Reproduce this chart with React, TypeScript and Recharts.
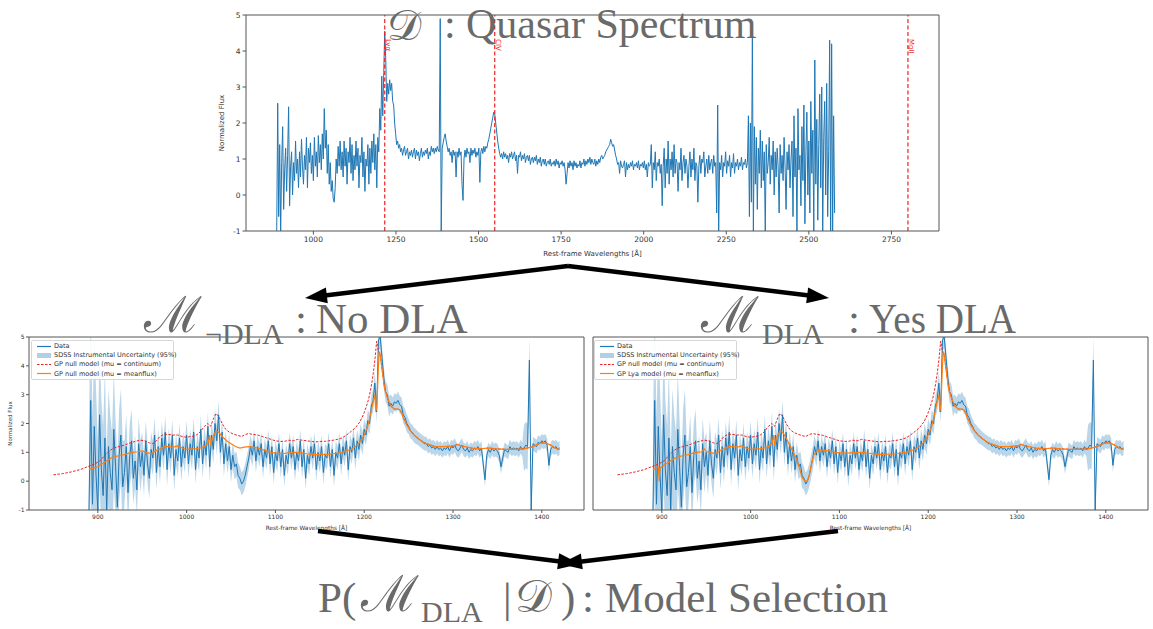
import { ComposedChart, Line, Area, XAxis, YAxis, ReferenceLine, Legend } from 'recharts';

// top panel: flux sampled every 3 Å from 889 Å
const QUASAR_START = 889;
const QUASAR_STEP = 3;
const quasarFlux = [
  -1.0, 2.55, -0.6, 1.4, -1.0, 0.9, 1.9, -0.4, 0.7, 1.3,
  0.1, 1.1, 2.45, -0.3, 0.8, 1.2, 0.0, 0.9, 0.4, 1.5,
  0.6, 1.0, 0.2, 1.2, 0.5, 1.55, 0.8, 0.3, 1.1, 0.7,
  1.6, 0.2, 1.3, 0.9, 1.45, 0.6, 1.1, 0.4, 1.6, 0.8,
  1.2, 0.5, 1.65, 0.9, 1.4, 0.7, 1.7, 1.0, 2.4, 1.3,
  1.8, 0.6, 1.4, 0.3, 0.9, 0.1, 0.4, -0.1, -0.2, 0.2,
  1.0, 0.6, 1.35, 0.8, 1.5, 0.7, 1.2, 0.5, 1.5, 0.8,
  1.3, 0.3, 1.2, 0.9, 1.6, 0.6, 1.4, 0.4, 1.1, 0.7,
  1.5, 0.8, 1.3, 0.2, 1.1, 0.9, 1.6, 0.5, 1.2, 0.1,
  1.0, 0.8, 1.4, 0.3, 1.3, 0.6, 1.5, 0.9, 1.7, 0.7,
  1.4, 0.2, 1.6, 1.2, 2.4, 1.8, 3.3, 2.2, 3.4, 4.55,
  3.8, 2.6, 3.1, 2.8, 3.2, 2.9, 3.1, 2.6, 2.5, 2.0,
  1.7, 1.4, 1.5, 1.3, 1.4, 1.2, 1.3, 1.1, 1.25, 1.35,
  1.1, 1.2, 1.3, 1.0, 1.2, 1.1, 1.25, 1.05, 1.2, 1.3,
  1.0, 1.25, 1.1, 1.2, 0.95, 1.15, 1.3, 1.05, 1.2, 1.1,
  1.25, 1.15, 1.3, 1.0, 1.2, 1.1, 1.35, 1.2, 1.3, 1.15,
  1.3, 1.2, 1.35, 1.25, 1.2, 4.9, -1.0, 1.3, 1.45, 1.6,
  1.7, 1.5, 1.35, 1.2, 1.3, 1.1, 1.2, 0.9, 1.25, 1.1,
  1.2, 0.5, 1.2, 1.05, 1.3, 1.1, 1.2, 0.3, -0.15, 1.0,
  1.25, 1.05, 1.3, 1.15, 1.2, 0.9, 1.3, 1.1, 1.25, 1.15,
  1.3, 1.05, 1.2, 1.1, 1.3, 0.35, 1.2, 1.3, 1.15, 1.35,
  1.2, 1.35, 1.3, 1.45, 1.55, 1.7, 1.85, 2.0, 2.15, 2.3,
  2.25, 2.0, 1.75, 1.5, 1.3, 1.15, 1.05, 1.15, 1.0, 1.2,
  1.05, 1.15, 1.0, 1.1, 0.9, 1.15, 1.05, 1.2, 1.0, 1.1,
  1.2, 0.95, 1.1, 0.6, 1.1, 1.05, 1.2, 0.95, 1.1, 1.0,
  1.15, 0.9, 1.05, 1.1, 0.95, 1.1, 0.85, 1.0, 1.05, 0.9,
  1.05, 0.95, 1.1, 0.85, 1.0, 0.9, 1.05, 0.8, 0.95, 1.0,
  0.85, 1.0, 0.8, 0.9, 0.95, 0.85, 1.0, 0.8, 0.9, 0.85,
  0.95, 0.8, 1.0, 0.85, 0.95, 0.75, 0.9, 0.85, 0.95, 0.8,
  0.9, 0.7, 0.3, 0.6, 0.9, 0.75, 0.95, 0.8, 0.9, 0.7,
  0.95, 0.8, 0.9, 0.75, 0.85, 0.8, 0.95, 0.75, 0.9, 0.85,
  1.0, 0.8, 0.95, 0.85, 1.0, 0.9, 1.05, 0.85, 1.0, 0.9,
  0.85, 1.0, 0.8, 0.95, 0.85, 1.0, 0.9, 1.05, 1.1, 1.0,
  1.05, 1.1, 1.2, 1.25, 1.3, 1.35, 1.4, 1.55, 1.45, 1.35,
  1.4, 1.25, 1.1, 1.0, 0.85, 0.9, 0.6, 0.95, 0.8, 0.75,
  0.85, 0.95, 0.5, 0.9, 0.7, 0.85, 0.75, 0.9, 0.8, 0.95,
  0.7, 0.85, 0.8, 0.9, 0.75, 0.95, 0.7, 0.85, 0.8, 0.9,
  0.75, 0.95, 0.7, 0.85, 0.5, 0.9, 0.8, 0.85, 1.4, 0.2,
  0.9, 0.7, 1.2, 0.4, 0.9, 0.8, 1.0, 0.6, 0.85, -0.3,
  0.8, 1.3, 0.2, 1.0, 0.6, 1.5, 0.3, 1.0, 0.7, 1.2,
  0.5, 1.4, 0.6, 1.0, 0.9, 0.1, 0.9, 0.7, 1.3, 0.4,
  0.9, 1.1, 0.6, 1.0, 0.8, 0.2, 0.8, 1.2, 0.5, 1.0,
  0.7, 1.3, 0.4, 0.9, 0.8, -0.2, 0.8, 1.1, 0.6, 1.0,
  0.9, 1.2, 0.5, 0.8, 1.0, 0.6, 1.1, 0.7, 0.9, 1.0,
  0.6, 1.1, 0.8, 0.9, -0.5, 2.5, -1.0, 0.9, 0.7, 1.1,
  0.5, 0.9, 0.8, 1.2, 0.6, 0.95, 0.8, 1.1, 0.5, 0.9,
  0.75, 1.15, 0.6, 0.9, 0.8, 1.0, 0.7, 0.9, 0.8, 1.05,
  0.7, 0.9, 0.85, 1.0, 0.75, 0.9, 2.2, -0.6, 2.0, -0.2,
  4.5, -1.0, 1.9, 0.3, 1.6, -0.4, 1.3, 0.6, 1.8, 0.2,
  1.5, 0.4, 1.2, -1.0, 1.4, 0.6, 0.9, 1.6, 0.3, 1.1,
  0.7, 1.5, 0.0, 1.2, 0.5, 1.3, 0.8, -0.5, 1.4, 0.6,
  1.1, 0.4, 1.6, 0.8, -0.4, 1.2, 0.7, 1.4, 0.2, 1.0,
  1.5, -0.6, 2.2, 0.5, 1.3, -1.0, 2.4, 0.7, 1.1, -0.3,
  1.9, 0.4, 2.5, -0.8, 1.2, 2.3, 0.0, 1.5, -0.5, 2.6,
  0.6, 1.8, -1.0, 3.75, 0.3, 2.1, -0.7, 1.4, 2.8, 0.2,
  3.0, -1.0, 1.6, 2.6, 0.0, 3.1, -0.6, 1.2, 4.3, -1.0,
  4.2, -1.0, 2.2, -0.5,
];

// lower panels: same spectrum near Lyα, flux every 2 Å from 890 Å
const DLA_START = 890;
const DLA_STEP = 2;
const dlaFlux = [
  -1.0, 2.8, -0.8, 1.9, 0.2, -1.0, 2.3, 0.4, -0.5, 1.5,
  -1.0, 1.2, 0.3, -0.3, 1.8, 0.5, -0.9, 0.9, 1.6, -0.2,
  0.3, 1.2, -0.4, 0.9, 1.4, 0.1, 0.7, -0.3, 1.3, 0.5,
  1.0, 0.2, 1.4, 0.6, 0.1, 1.1, 0.8, 1.6, 0.3, 1.2,
  0.5, 1.5, 0.9, 1.7, 0.4, 1.3, 0.8, 1.6, 0.2, 1.1,
  0.7, 1.5, 0.5, 1.2, 0.8, 1.6, 0.6, 1.3, 0.9, 1.7,
  0.4, 1.2, 0.8, 1.8, 0.6, 1.4, 0.9, 1.9, 0.5, 1.6,
  1.1, 2.0, 1.4, 2.3, 1.0, 1.7, 0.6, 1.3, 0.7, 1.2,
  0.4, 0.9, 0.5, 0.6, 0.2, 0.1, -0.1, 0.0, 0.2, 0.5,
  0.8, 1.2, 0.9, 1.4, 0.7, 1.2, 0.9, 1.3, 0.5, 1.1,
  0.8, 1.4, 0.6, 1.2, 0.3, 1.0, 0.7, 1.3, 0.5, 1.1,
  0.2, 0.9, 0.6, 1.3, 0.8, 1.2, 0.4, 1.0, 0.7, 1.4,
  0.5, 1.1, 0.1, 0.9, 0.6, 1.2, 0.8, 1.3, 0.4, 1.0,
  0.7, 1.2, 0.3, 0.9, 0.8, 1.3, 0.5, 1.1, 0.2, 1.0,
  0.8, 1.3, 0.6, 1.2, 0.9, 1.4, 0.4, 1.2, 1.0, 1.5,
  0.8, 1.4, 1.1, 1.6, 1.3, 1.8, 1.6, 2.1, 2.0, 2.6,
  2.8, 3.4, 2.4, 4.9, 5.0, 4.3, 3.6, 3.1, 3.0, 2.6,
  2.7, 2.6, 2.75, 2.7, 2.8, 2.65, 2.6, 2.3, 2.2, 2.0,
  1.9, 1.75, 1.7, 1.6, 1.55, 1.5, 1.45, 1.4, 1.35, 1.3,
  1.3, 1.2, 1.25, 1.15, 1.2, 1.1, 1.2, 1.1, 1.15, 1.05,
  1.15, 1.1, 1.2, 1.05, 1.2, 1.15, 1.25, 1.1, 1.05, 1.15,
  1.25, 1.1, 1.05, 1.15, 1.0, 1.1, 1.05, 1.15, 1.1, 1.2,
  1.05, 1.15, 0.6, 0.05, 0.9, 1.1, 1.0, 1.15, 1.05, 1.1,
  1.05, 0.9, 0.5, 0.8, 1.1, 1.05, 1.0, 1.2, 1.1, 1.15,
  1.1, 1.15, 1.05, 1.2, 1.1, 1.15, 1.25, 1.2, 4.2, -1.0,
  1.3, 1.25, 1.2, 1.35, 1.3, 1.4, 1.35, 1.4, 1.25, 0.55,
  1.1, 1.2, 1.15, 1.2, 1.1, 1.15,
];

// 1-sigma pipeline noise, one value per 10 Å bin from 890 Å
const SIGMA_STEP = 10;
const dlaSigma = [
  1.5, 1.2, 1.0, 0.8, 0.55, 0.45, 0.35, 0.3, 0.28, 0.27,
  0.26, 0.25, 0.25, 0.25, 0.25, 0.22, 0.22, 0.2, 0.2, 0.2,
  0.2, 0.2, 0.2, 0.2, 0.2, 0.2, 0.2, 0.2, 0.2, 0.2,
  0.2, 0.18, 0.2, 0.18, 0.15, 0.15, 0.13, 0.12, 0.12, 0.12,
  0.12, 0.12, 0.12, 0.12, 0.12, 0.12, 0.12, 0.12, 0.12, 0.4,
  0.12, 0.12, 0.12, 0.12,
];

const continuumModel: [number, number][] = [
  [850, 0.22], [860, 0.26], [870, 0.32], [880, 0.4], [890, 0.52], [897, 0.6], [903, 0.72], [908, 0.9], [913, 1.05], [918, 1.15],
  [924, 1.2], [930, 1.25], [936, 1.32], [942, 1.38], [948, 1.42], [953, 1.4], [958, 1.33], [962, 1.3], [966, 1.4], [970, 1.55],
  [975, 1.63], [980, 1.62], [985, 1.6], [990, 1.6], [995, 1.55], [1000, 1.52], [1005, 1.55], [1010, 1.58], [1015, 1.7], [1020, 1.9],
  [1024, 2.0], [1027, 1.9], [1030, 2.15], [1033, 2.35], [1036, 2.25], [1040, 2.0], [1044, 1.8], [1048, 1.7], [1053, 1.63], [1058, 1.58],
  [1062, 1.55], [1066, 1.62], [1070, 1.65], [1075, 1.62], [1080, 1.6], [1085, 1.55], [1090, 1.5], [1095, 1.45], [1100, 1.4], [1105, 1.38],
  [1110, 1.38], [1115, 1.42], [1120, 1.4], [1125, 1.45], [1130, 1.42], [1135, 1.4], [1140, 1.38], [1145, 1.36], [1150, 1.38], [1155, 1.38],
  [1160, 1.4], [1165, 1.42], [1170, 1.45], [1175, 1.5], [1180, 1.6], [1185, 1.72], [1190, 1.85], [1195, 2.05], [1199, 2.3], [1202, 2.55],
  [1205, 2.85], [1208, 3.3], [1210, 3.7], [1212, 4.2], [1214, 4.85], [1215, 4.7], [1216, 4.5], [1218, 4.4], [1220, 3.9], [1223, 3.2],
  [1226, 2.9], [1230, 2.6], [1234, 2.5], [1238, 2.5], [1241, 2.45], [1244, 2.2], [1248, 1.95], [1252, 1.75], [1256, 1.6], [1260, 1.5],
  [1265, 1.38], [1270, 1.3], [1275, 1.25], [1280, 1.2], [1290, 1.2], [1300, 1.22], [1305, 1.27], [1310, 1.22], [1320, 1.15], [1330, 1.12],
  [1340, 1.15], [1350, 1.12], [1360, 1.1], [1370, 1.1], [1380, 1.12], [1390, 1.2], [1395, 1.28], [1400, 1.33], [1405, 1.32], [1410, 1.25],
  [1415, 1.15], [1420, 1.1],
];

const nullMeanflux: [number, number][] = [
  [890, 0.4], [895, 0.45], [900, 0.5], [905, 0.6], [910, 0.7], [915, 0.8], [920, 0.85], [925, 0.9], [930, 0.92], [935, 0.97],
  [940, 1.0], [945, 1.02], [950, 1.05], [955, 1.0], [960, 0.95], [965, 1.05], [970, 1.12], [975, 1.2], [980, 1.2], [985, 1.18],
  [990, 1.22], [995, 1.15], [1000, 1.1], [1005, 1.12], [1010, 1.12], [1015, 1.15], [1020, 1.2], [1024, 1.3], [1026, 1.6], [1027, 1.25],
  [1029, 1.5], [1033, 1.75], [1036, 1.7], [1040, 1.55], [1045, 1.4], [1050, 1.3], [1055, 1.2], [1060, 1.15], [1065, 1.18], [1070, 1.2],
  [1075, 1.18], [1080, 1.15], [1085, 1.1], [1090, 1.05], [1095, 1.0], [1100, 0.97], [1105, 0.97], [1110, 0.96], [1115, 0.98], [1120, 1.0],
  [1125, 1.0], [1130, 0.98], [1135, 0.95], [1140, 0.93], [1145, 0.92], [1150, 0.92], [1155, 0.93], [1160, 0.93], [1165, 0.95], [1170, 0.97],
  [1175, 1.0], [1180, 1.05], [1185, 1.1], [1190, 1.2], [1195, 1.35], [1200, 1.6], [1204, 1.9], [1207, 2.3], [1210, 2.75], [1212, 3.0],
  [1213, 2.45], [1214, 2.5], [1215, 3.2], [1216, 4.0], [1217, 4.5], [1218, 4.4], [1220, 3.9], [1223, 3.2], [1226, 2.9], [1230, 2.6],
  [1234, 2.5], [1238, 2.5], [1241, 2.45], [1244, 2.2], [1248, 1.95], [1252, 1.75], [1256, 1.6], [1260, 1.5], [1265, 1.38], [1270, 1.3],
  [1275, 1.25], [1280, 1.2], [1290, 1.2], [1300, 1.22], [1305, 1.27], [1310, 1.22], [1320, 1.15], [1330, 1.12], [1340, 1.15], [1350, 1.12],
  [1360, 1.1], [1370, 1.1], [1380, 1.12], [1390, 1.2], [1395, 1.28], [1400, 1.33], [1405, 1.32], [1410, 1.25], [1415, 1.15], [1420, 1.1],
];

const lyaMeanflux: [number, number][] = [
  [890, 0.4], [893, 0.45], [896, 0.5], [897, 0.0], [898, 0.45], [900, 0.5], [905, 0.6], [910, 0.7], [915, 0.8], [920, 0.85],
  [925, 0.9], [930, 0.92], [935, 0.97], [940, 1.0], [945, 1.02], [948, 1.12], [950, 1.03], [955, 1.0], [960, 0.95], [965, 1.05],
  [970, 1.12], [975, 1.2], [980, 1.2], [985, 1.18], [990, 1.22], [995, 1.15], [1000, 1.1], [1005, 1.12], [1010, 1.12], [1015, 1.15],
  [1020, 1.2], [1024, 1.3], [1026, 1.6], [1027, 1.25], [1029, 1.5], [1033, 1.75], [1036, 1.7], [1040, 1.5], [1044, 1.25], [1048, 1.0],
  [1052, 0.75], [1055, 0.45], [1058, 0.12], [1061, 0.0], [1064, 0.02], [1066, 0.2], [1068, 0.5], [1071, 0.9], [1075, 1.05], [1080, 1.08],
  [1085, 1.06], [1090, 1.04], [1095, 1.0], [1100, 0.98], [1105, 0.98], [1110, 0.97], [1115, 0.99], [1120, 1.0], [1125, 1.0], [1130, 0.98],
  [1135, 0.96], [1140, 0.94], [1145, 0.93], [1150, 0.93], [1155, 0.94], [1160, 0.94], [1165, 0.96], [1170, 0.98], [1175, 1.0], [1180, 1.05],
  [1185, 1.1], [1190, 1.2], [1195, 1.35], [1200, 1.6], [1204, 1.9], [1207, 2.3], [1210, 2.75], [1212, 3.0], [1213, 2.45], [1214, 2.5],
  [1215, 3.2], [1216, 4.0], [1217, 4.5], [1218, 4.4], [1220, 3.9], [1223, 3.2], [1226, 2.9], [1230, 2.6], [1234, 2.5], [1238, 2.5],
  [1241, 2.45], [1244, 2.2], [1248, 1.95], [1252, 1.75], [1256, 1.6], [1260, 1.5], [1265, 1.38], [1270, 1.3], [1275, 1.25], [1280, 1.2],
  [1290, 1.2], [1300, 1.22], [1305, 1.27], [1310, 1.22], [1320, 1.15], [1330, 1.12], [1340, 1.15], [1350, 1.12], [1360, 1.1], [1370, 1.1],
  [1380, 1.12], [1390, 1.2], [1395, 1.28], [1400, 1.33], [1405, 1.32], [1410, 1.25], [1415, 1.15], [1420, 1.1],
];

const emissionLines = [
  { name: 'Lyα', wave: 1216 },
  { name: 'CIV', wave: 1549 },
  { name: 'MgII', wave: 2800 },
];

const fluxTicks = [-1, 0, 1, 2, 3, 4, 5];
const topTicks = [1000, 1250, 1500, 1750, 2000, 2250, 2500, 2750];
const lowerTicks = [900, 1000, 1100, 1200, 1300, 1400];
const TOP_DOMAIN = [796, 2894];
const LOWER_DOMAIN = [822.5, 1447.5];
const FLUX_DOMAIN = [-1, 5];

const BLUE = '#1f77b4';
const ORANGE = '#ff7f0e';
const RED = '#ee2222';
const AXIS = '#555';
const TITLE_GREY = '#6a6a6a';
const SERIF = 'Liberation Serif, Times New Roman, serif';
const SANS = 'DejaVu Sans, sans-serif';

const topData = quasarFlux.map((f, i) => ({ w: QUASAR_START + i * QUASAR_STEP, f }));
const lowerData = dlaFlux.map((f, i) => {
  const w = DLA_START + i * DLA_STEP;
  const s = dlaSigma[Math.floor((w - DLA_START) / SIGMA_STEP)];
  return { w, f, band: [f - 2 * s, f + 2 * s] };
});
const contData = continuumModel.map(([w, f]) => ({ w, f }));
const nullData = nullMeanflux.map(([w, f]) => ({ w, f }));
const lyaData = lyaMeanflux.map(([w, f]) => ({ w, f }));

const xLabel = (text: string, dy: number, size: number) => ({ viewBox }: any) => (
  <text x={viewBox.x + viewBox.width / 2} y={viewBox.y + dy} textAnchor="middle" fontSize={size} fill="#333" fontFamily={SANS}>
    {text}
  </text>
);

const yLabel = (text: string, dx: number, size: number) => ({ viewBox }: any) => {
  const cx = viewBox.x + dx;
  const cy = viewBox.y + viewBox.height / 2;
  return (
    <text x={cx} y={cy} transform={`rotate(-90 ${cx} ${cy})`} textAnchor="middle" dominantBaseline="central"
      fontSize={size} fill="#333" fontFamily={SANS}>
      {text}
    </text>
  );
};

const lineLabel = (text: string) => ({ viewBox }: any) => {
  const x = viewBox.x + 1.5;
  const y = viewBox.y + 24;
  return (
    <text x={x} y={y} transform={`rotate(90 ${x} ${y})`} fontSize={7} fill={RED} fontFamily={SANS}>
      {text}
    </text>
  );
};

function QuasarChart() {
  return (
    <div style={{ position: 'absolute', left: 196, top: 0 }}>
      <ComposedChart width={750} height={262} margin={{ top: 15, right: 7, bottom: 0, left: 0 }}>
        <XAxis dataKey="w" type="number" domain={TOP_DOMAIN} ticks={topTicks} allowDataOverflow height={31}
          stroke={AXIS} tickSize={3.5} tickMargin={2} tick={{ fontSize: 7.5, fill: '#333', fontFamily: SANS }}
          label={xLabel('Rest-frame Wavelengths [Å]', 25, 7)} />
        <YAxis type="number" domain={FLUX_DOMAIN} ticks={fluxTicks} allowDataOverflow width={50}
          stroke={AXIS} tickSize={3.5} tickMargin={2} tick={{ fontSize: 7.5, fill: '#333', fontFamily: SANS }}
          label={yLabel('Normalized Flux', 26, 7)} />
        <ReferenceLine y={FLUX_DOMAIN[1]} stroke={AXIS} />
        <ReferenceLine x={TOP_DOMAIN[1]} stroke={AXIS} />
        <Line data={topData} dataKey="f" stroke={BLUE} strokeWidth={1} dot={false} isAnimationActive={false} />
        {emissionLines.map((l) => (
          <ReferenceLine key={l.name} x={l.wave} stroke={RED} strokeWidth={1.2} strokeDasharray="4 2.5" label={lineLabel(l.name)} />
        ))}
      </ComposedChart>
    </div>
  );
}

function SpectrumLegend({ modelLabel }: { modelLabel: string }) {
  const rows = [
    { label: 'Data', kind: 'line', color: BLUE },
    { label: 'SDSS Instrumental Uncertainty (95%)', kind: 'patch', color: BLUE },
    { label: 'GP null model (mu = continuum)', kind: 'dash', color: RED },
    { label: modelLabel, kind: 'line', color: ORANGE },
  ];
  return (
    <div style={{ border: '1px solid #d6d6d6', borderRadius: 2, background: 'rgba(255,255,255,0.85)', padding: '1px 0',
      width: 141, fontFamily: SANS, fontSize: 6.5, color: '#333' }}>
      {rows.map((r) => (
        <div key={r.label} style={{ display: 'flex', alignItems: 'center', height: 9.2 }}>
          <svg width={22} height={9} style={{ flex: 'none' }}>
            {r.kind === 'patch' ? (
              <rect x={5} y={2} width={14} height={5} fill={r.color} fillOpacity={0.35} />
            ) : (
              <line x1={5} x2={19} y1={4.5} y2={4.5} stroke={r.color} strokeWidth={1.2} strokeDasharray={r.kind === 'dash' ? '2.5 1.5' : undefined} />
            )}
          </svg>
          <span style={{ whiteSpace: 'nowrap' }}>{r.label}</span>
        </div>
      ))}
    </div>
  );
}

function ModelChart({ left, width, yWidth, showFluxLabels, model, modelLabel, legendLeft }: any) {
  return (
    <div style={{ position: 'absolute', left, top: 330 }}>
      <ComposedChart width={width} height={203} margin={{ top: 7, right: 5, bottom: 0, left: 0 }}>
        <XAxis dataKey="w" type="number" domain={LOWER_DOMAIN} ticks={lowerTicks} allowDataOverflow height={23}
          stroke={AXIS} tickSize={3} tickMargin={1.5} tick={{ fontSize: 6, fill: '#333', fontFamily: SANS }}
          label={xLabel('Rest-frame Wavelengths [Å]', 19.5, 5.8)} />
        <YAxis type="number" domain={FLUX_DOMAIN} ticks={fluxTicks} allowDataOverflow width={yWidth}
          stroke={AXIS} tickSize={3} tickMargin={1.5}
          tick={showFluxLabels ? { fontSize: 6, fill: '#333', fontFamily: SANS } : false}
          label={showFluxLabels ? yLabel('Normalized Flux', 10, 5.5) : undefined} />
        <ReferenceLine y={FLUX_DOMAIN[1]} stroke={AXIS} />
        <ReferenceLine x={LOWER_DOMAIN[1]} stroke={AXIS} />
        <Area data={lowerData} dataKey="band" type="linear" stroke="none" fill={BLUE} fillOpacity={0.3} isAnimationActive={false} />
        <Line data={lowerData} dataKey="f" type="linear" stroke={BLUE} strokeWidth={1} dot={false} isAnimationActive={false} />
        <Line data={contData} dataKey="f" type="linear" stroke={RED} strokeWidth={1} strokeDasharray="2.5 1.5" dot={false} isAnimationActive={false} />
        <Line data={model} dataKey="f" type="linear" stroke={ORANGE} strokeWidth={1.2} dot={false} isAnimationActive={false} />
        <Legend layout="horizontal" verticalAlign="middle" align="center"
          wrapperStyle={{ left: legendLeft, top: 9.5, width: 143, height: 40 }}
          content={() => <SpectrumLegend modelLabel={modelLabel} />} />
      </ComposedChart>
    </div>
  );
}

function Arrow({ x1, y1, x2, y2 }: { x1: number; y1: number; x2: number; y2: number }) {
  const a = Math.atan2(y2 - y1, x2 - x1);
  const len = 22;
  const half = 8;
  const bx = x2 - len * Math.cos(a);
  const by = y2 - len * Math.sin(a);
  const px = -Math.sin(a) * half;
  const py = Math.cos(a) * half;
  return (
    <g>
      <line x1={x1} y1={y1} x2={bx + 2 * Math.cos(a)} y2={by + 2 * Math.sin(a)} stroke="#000" strokeWidth={4.5} />
      <polygon points={`${x2},${y2} ${bx + px},${by + py} ${bx - px},${by - py}`} fill="#000" />
    </g>
  );
}

function Annotations() {
  const t = { fill: TITLE_GREY, style: { fontFamily: SERIF } };
  return (
    <svg width={1153} height={629} style={{ position: 'absolute', left: 0, top: 0, pointerEvents: 'none' }}>
      <text {...t} fontSize={43} x={387} y={40}>𝒟</text>
      <text {...t} fontSize={42} y={38}>
        <tspan x={444}>:</tspan>
        <tspan x={466}>Quasar Spectrum</tspan>
      </text>

      <text {...t} fontSize={50} x={144} y={332}>ℳ</text>
      <text {...t} fontSize={30} x={205} y={344}>¬DLA</text>
      <text {...t} fontSize={43} y={333}>
        <tspan x={295}>:</tspan>
        <tspan x={316}>No DLA</tspan>
      </text>

      <text {...t} fontSize={50} x={701} y={332}>ℳ</text>
      <text {...t} fontSize={30} x={762} y={344}>DLA</text>
      <text {...t} fontSize={43} y={333}>
        <tspan x={848}>:</tspan>
        <tspan x={869} textLength={147} lengthAdjust="spacingAndGlyphs">Yes DLA</tspan>
      </text>

      <text {...t} fontSize={43} x={318} y={612}>P(</text>
      <text {...t} fontSize={50} x={361} y={611}>ℳ</text>
      <text {...t} fontSize={30} x={421} y={622}>DLA</text>
      <text {...t} fontSize={43} x={503} y={612}>|</text>
      <text {...t} fontSize={46} x={515} y={612}>𝒟</text>
      <text {...t} fontSize={43} y={612}>
        <tspan x={561}>)</tspan>
        <tspan x={582}>:</tspan>
        <tspan x={605}>Model Selection</tspan>
      </text>

      <Arrow x1={568} y1={266} x2={305} y2={298} />
      <Arrow x1={568} y1={266} x2={829} y2={298} />
      <Arrow x1={318} y1={531} x2={580} y2={564} />
      <Arrow x1={838} y1={531} x2={560} y2={564} />
    </svg>
  );
}

export default function App() {
  return (
    <div style={{ position: 'absolute', left: 0, top: 0, width: 1153, height: 629, background: '#fff', overflow: 'hidden', fontFamily: SANS }}>
      <QuasarChart />
      <ModelChart left={0} width={589} yWidth={29} showFluxLabels model={nullData}
        modelLabel="GP null model (mu = meanflux)" legendLeft={31} />
      <ModelChart left={585} width={568} yWidth={8} showFluxLabels={false} model={lyaData}
        modelLabel="GP Lya model (mu = meanflux)" legendLeft={9} />
      <Annotations />
    </div>
  );
}
